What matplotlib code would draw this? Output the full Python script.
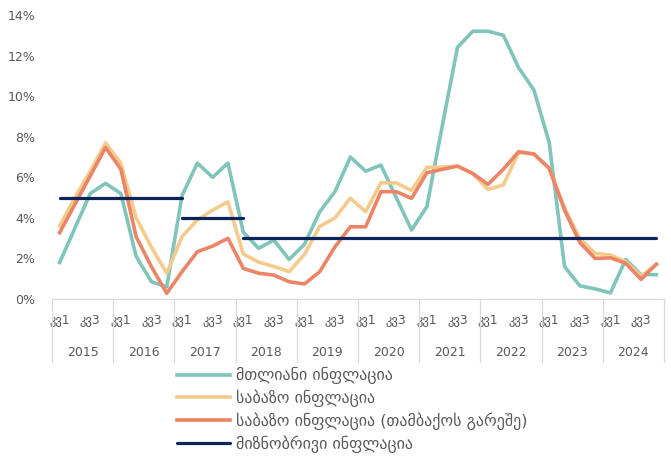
import matplotlib
matplotlib.use("Agg")
import matplotlib.pyplot as plt
import matplotlib.transforms as mtransforms
import numpy as np

# ─── Data (quarterly, 2015 Q1 – 2024 Q4, % y/y) ─────────────────────────────
years = [str(y) for y in range(2015, 2025)]
quarter_labels = ["კვ1", "", "კვ3", ""] * len(years)

headline = [1.8, 3.5, 5.2, 5.7, 5.2, 2.1, 0.85, 0.6,
            5.1, 6.7, 6.0, 6.7, 3.3, 2.5, 2.9, 1.95,
            2.7, 4.3, 5.3, 7.0, 6.3, 6.6, 5.0, 3.4,
            4.55, 8.5, 12.4, 13.2, 13.2, 13.0, 11.4, 10.3,
            7.7, 1.6, 0.65, 0.5, 0.3, 1.95, 1.2, 1.2]
core = [3.6, 5.0, 6.3, 7.7, 6.7, 4.0, 2.55, 1.27,
        3.07, 3.9, 4.38, 4.79, 2.22, 1.82, 1.6, 1.35,
        2.2, 3.58, 4.0, 4.97, 4.3, 5.73, 5.72, 5.35,
        6.49, 6.5, 6.55, 6.18, 5.4, 5.62, 7.22, 7.14,
        6.44, 4.5, 2.97, 2.25, 2.17, 1.84, 1.13, 1.7]
core_ex_tobacco = [3.27, 4.67, 6.07, 7.47, 6.4, 3.07, 1.59, 0.28,
                   1.35, 2.33, 2.61, 2.99, 1.51, 1.27, 1.18, 0.85,
                   0.74, 1.35, 2.58, 3.56, 3.56, 5.29, 5.29, 4.96,
                   6.22, 6.39, 6.55, 6.19, 5.65, 6.4, 7.26, 7.15,
                   6.44, 4.38, 2.78, 2.0, 2.03, 1.76, 0.97, 1.72]

target_levels = [5, 4, 3]
target_from = [0, 8, 12]
target_to = [8, 12, 39]

series_names = ["მთლიანი ინფლაცია", "საბაზო ინფლაცია",
                "საბაზო ინფლაცია (თამბაქოს გარეშე)", "მიზნობრივი ინფლაცია"]

C_HEAD = "#80C5BC"; C_CORE = "#F4CB8C"; C_COREX = "#EC8466"; C_TARGET = "#0B2559"
C_TEXT = "#595959"; C_AXIS = "#D9D9D9"

plt.rcParams["font.family"] = ["DejaVu Sans"]

fig = plt.figure(figsize=(6.71, 4.58), dpi=100)
ax = fig.add_axes([52/671, 1 - 299/458, 612/671, 284/458])

x = np.arange(len(headline))
ax.plot(x, headline, color=C_HEAD, lw=2.6, label=series_names[0], solid_joinstyle="round")
ax.plot(x, core, color=C_CORE, lw=2.6, label=series_names[1], solid_joinstyle="round")
ax.plot(x, core_ex_tobacco, color=C_COREX, lw=2.6, label=series_names[2], solid_joinstyle="round")
for k, (lvl, a, b) in enumerate(zip(target_levels, target_from, target_to)):
    ax.plot([x[a], x[b]], [lvl, lvl], color=C_TARGET, lw=2.3,
            label=series_names[3] if k == 0 else None, solid_capstyle="round")

ax.set_xlim(-0.5, len(x) - 0.5)
ax.set_ylim(0, 14)
ax.set_yticks(range(0, 15, 2))
ax.yaxis.set_major_formatter(lambda v, _: f"{v:.0f}%")
ax.set_xticks(x)
ax.set_xticklabels(quarter_labels)
ax.tick_params(axis="x", length=0, pad=11, labelsize=9, labelcolor=C_TEXT)
ax.tick_params(axis="y", length=0, pad=12, labelsize=9, labelcolor=C_TEXT)
for s in ["top", "right", "left"]:
    ax.spines[s].set_visible(False)
ax.spines["bottom"].set_color(C_AXIS)

# year groups
tr = mtransforms.blended_transform_factory(ax.transData, ax.transAxes)
for b in np.arange(-0.5, len(x), 4):
    ax.plot([b, b], [0, -0.222], transform=tr, color=C_AXIS, lw=0.9, clip_on=False)
for i, yr in enumerate(years):
    ax.text(i*4 + 1.5, -0.187, yr, transform=tr, ha="center", va="center",
            fontsize=9, color=C_TEXT)

fig.legend(loc="upper left", bbox_to_anchor=(177/671, 1 - 367/458),
           frameon=False, fontsize=11.5, handlelength=3.3, handletextpad=0.4,
           labelspacing=0.33, borderaxespad=0, borderpad=0, labelcolor=C_TEXT)

fig.savefig("out.png", dpi=100, facecolor="white")
